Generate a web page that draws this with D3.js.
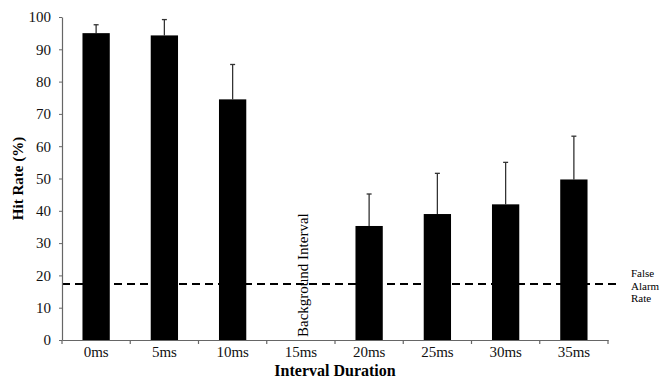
<!DOCTYPE html>
<html>
<head>
<meta charset="utf-8">
<script src="https://cdn.jsdelivr.net/npm/d3@7"></script>
<style>
  body { margin: 0; background: #fff; }
  text { font-family: "Liberation Serif", "Times New Roman", serif; }
</style>
</head>
<body>
<svg id="chart"></svg>
<script>
// Hit rate by interval duration (15ms = background interval, no bar)
const categories = ["0ms", "5ms", "10ms", "15ms", "20ms", "25ms", "30ms", "35ms"];
const hitRate = [95, 94.3, 74.5, null, 35.3, 39, 42, 49.7];
const errorTop = [97.6, 99.2, 85.3, null, 45.2, 51.6, 55, 63.1];
const yTicks = [0, 10, 20, 30, 40, 50, 60, 70, 80, 90, 100];
const falseAlarmRate = 17.3;

const svg = d3.select("#chart")
    .attr("width", 661)
    .attr("height", 378);

const margin = { top: 17, right: 53, bottom: 38, left: 62 },
      width = 661 - margin.left - margin.right,
      height = 378 - margin.top - margin.bottom;

const chart = svg.append("g")
    .attr("transform", `translate(${margin.left}, ${margin.top})`);

const x = d3.scaleBand()
    .domain(categories)
    .range([0, width])
    .paddingInner(0.6)
    .paddingOuter(0.3);

const y = d3.scaleLinear()
    .domain([0, 100])
    .range([height, 0]);

const data = categories.map((c, i) => ({ cat: c, v: hitRate[i], e: errorTop[i] }))
    .filter(d => d.v != null);

// error bars (drawn first so the bar covers the lower half)
chart.selectAll(".err")
    .data(data)
    .join("line")
    .attr("x1", d => x(d.cat) + x.bandwidth() / 2)
    .attr("x2", d => x(d.cat) + x.bandwidth() / 2)
    .attr("y1", d => y(d.v))
    .attr("y2", d => y(d.e))
    .attr("stroke", "#333")
    .attr("stroke-width", 1.3);

chart.selectAll(".cap")
    .data(data)
    .join("line")
    .attr("x1", d => x(d.cat) + x.bandwidth() / 2 - 2.5)
    .attr("x2", d => x(d.cat) + x.bandwidth() / 2 + 2.5)
    .attr("y1", d => y(d.e))
    .attr("y2", d => y(d.e))
    .attr("stroke", "#333")
    .attr("stroke-width", 1.3);

// bars
chart.selectAll(".bar")
    .data(data)
    .join("rect")
    .attr("x", d => x(d.cat))
    .attr("y", d => y(d.v))
    .attr("width", x.bandwidth())
    .attr("height", d => height - y(d.v))
    .attr("fill", "#000");

// false alarm line
chart.append("line")
    .attr("x1", 0)
    .attr("x2", width + 10)
    .attr("y1", y(falseAlarmRate))
    .attr("y2", y(falseAlarmRate))
    .attr("stroke", "#000")
    .attr("stroke-width", 2)
    .attr("stroke-dasharray", "8,5");

// axes
const xAxis = chart.append("g")
    .attr("transform", `translate(0, ${height})`)
    .call(d3.axisBottom(x).tickSize(0).tickPadding(6));
xAxis.select(".domain").attr("stroke", "#666").attr("stroke-width", 1.2);
xAxis.selectAll("text")
    .attr("font-size", 15)
    .attr("fill", "#111")
    .style("font-family", "Liberation Serif, serif");

// tick marks on band boundaries
chart.append("g")
    .selectAll("line")
    .data(d3.range(categories.length + 1))
    .join("line")
    .attr("x1", i => i * width / categories.length)
    .attr("x2", i => i * width / categories.length)
    .attr("y1", height)
    .attr("y2", height + 4)
    .attr("stroke", "#666")
    .attr("stroke-width", 1.2);

const yAxis = chart.append("g")
    .call(d3.axisLeft(y).tickValues(yTicks).tickSize(3).tickPadding(8).tickSizeOuter(0));
yAxis.select(".domain").attr("stroke", "#666").attr("stroke-width", 1.2);
yAxis.selectAll(".tick line").attr("stroke", "#666");
yAxis.selectAll("text")
    .attr("font-size", 15)
    .attr("fill", "#111")
    .style("font-family", "Liberation Serif, serif");

// axis titles
svg.append("text")
    .attr("transform", `translate(23, ${margin.top + height / 2}) rotate(-90)`)
    .attr("text-anchor", "middle")
    .attr("font-size", 15)
    .attr("font-weight", "bold")
    .text("Hit Rate (%)");

svg.append("text")
    .attr("x", margin.left + width / 2)
    .attr("y", 376)
    .attr("text-anchor", "middle")
    .attr("font-size", 16)
    .attr("font-weight", "bold")
    .text("Interval Duration");

// background interval label
chart.append("text")
    .attr("transform", `translate(${x("15ms") + x.bandwidth() / 2 + 7}, ${height - 3}) rotate(-90)`)
    .attr("font-size", 15)
    .text("Background Interval");

// false alarm label
const fa = svg.append("text")
    .attr("x", 631)
    .attr("y", 277)
    .attr("font-size", 11);
["False", "Alarm", "Rate"].forEach((t, i) => {
    fa.append("tspan").attr("x", 631).attr("dy", i === 0 ? 0 : 12.5).text(t);
});
</script>
</body>
</html>
